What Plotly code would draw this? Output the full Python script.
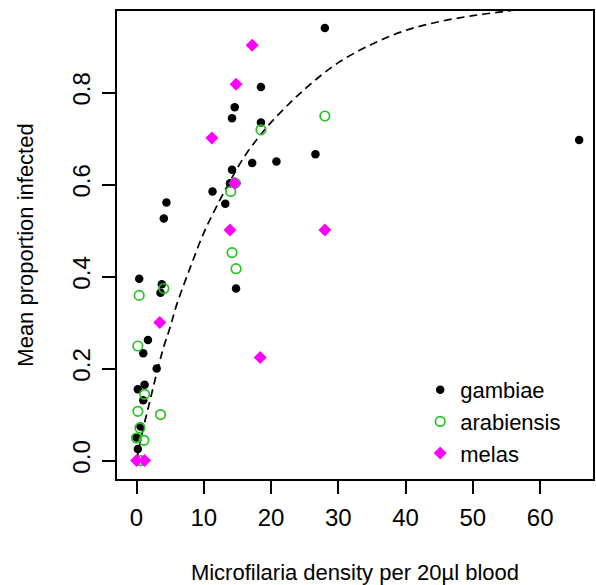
import plotly.graph_objects as go

# gambiae (black filled circles)
gambiae_x = [28.0, 18.5, 14.6, 14.2, 18.5, 26.6, 20.8, 17.2, 14.2, 13.9, 11.3, 13.2, 4.45, 4.06,
             65.8, 0.4, 3.76, 3.57, 14.8, 1.7, 1.0, 3.0, 0.2, 1.2, 1.0, 0.6, 0.0, 0.2]
gambiae_y = [0.940, 0.812, 0.768, 0.744, 0.735, 0.666, 0.650, 0.647, 0.632, 0.603, 0.585, 0.558, 0.561, 0.526,
             0.697, 0.395, 0.383, 0.365, 0.374, 0.262, 0.233, 0.200, 0.155, 0.165, 0.131, 0.074, 0.050, 0.025]

# arabiensis (green open circles)
arab_x = [28.0, 18.5, 14.7, 14.0, 14.2, 14.8, 4.06, 0.4, 0.2, 1.2, 3.57, 0.2, 0.5, 0.0, 1.1, 0.6]
arab_y = [0.749, 0.719, 0.603, 0.585, 0.452, 0.417, 0.374, 0.359, 0.249, 0.144, 0.100, 0.107, 0.071, 0.049, 0.044, 0.0]

# melas (magenta diamonds)
melas_x = [17.2, 14.8, 11.2, 14.6, 13.9, 28.0, 3.46, 18.4, 0.0, 1.2]
melas_y = [0.903, 0.818, 0.701, 0.603, 0.501, 0.501, 0.300, 0.224, 0.0, 0.0]

# fitted curve
curve_x = [0, 1, 2, 3, 4, 5, 6, 8, 10, 12, 14, 16, 18, 20, 23, 26, 30, 35, 40, 45, 50, 55, 58]
curve_y = [0.0, 0.07, 0.13, 0.19, 0.245, 0.29, 0.34, 0.42, 0.495, 0.555, 0.61, 0.66, 0.70, 0.735,
           0.78, 0.82, 0.865, 0.905, 0.935, 0.954, 0.967, 0.977, 0.983]

x_ticks = [0, 10, 20, 30, 40, 50, 60]
y_ticks = [0.0, 0.2, 0.4, 0.6, 0.8]
y_tick_labels = ["0.0", "0.2", "0.4", "0.6", "0.8"]

FONT = "Liberation Sans, Arial, sans-serif"

fig = go.Figure()
fig.add_trace(go.Scatter(x=curve_x, y=curve_y, mode="lines", line_shape="spline",
                         line=dict(color="black", width=1.7, dash="8px,5px"),
                         showlegend=False, hoverinfo="skip"))
fig.add_trace(go.Scatter(x=gambiae_x, y=gambiae_y, mode="markers", name="gambiae",
                         marker=dict(symbol="circle", size=8.5, color="black")))
fig.add_trace(go.Scatter(x=arab_x, y=arab_y, mode="markers", name="arabiensis",
                         marker=dict(symbol="circle-open", size=9.5, color="#22c322",
                                     line=dict(width=1.7, color="#22c322"))))
fig.add_trace(go.Scatter(x=melas_x, y=melas_y, mode="markers", name="melas",
                         marker=dict(symbol="diamond", size=10, color="#ff00ff")))

fig.update_layout(
    width=596, height=585,
    margin=dict(l=117, r=1, t=11, b=105),
    paper_bgcolor="white", plot_bgcolor="white",
    font=dict(family=FONT, color="black"),
    showlegend=True,
    legend=dict(x=0.637, y=0.235, xanchor="left", yanchor="top",
                bgcolor="rgba(0,0,0,0)", font=dict(size=22, family=FONT),
                tracegroupgap=0, itemwidth=30),
)
fig.update_xaxes(
    range=[-2.9, 67.86], tickvals=x_ticks, ticktext=[str(v) for v in x_ticks],
    showgrid=False, zeroline=False, showline=True, mirror=True,
    linecolor="black", linewidth=1.8, ticks="outside", ticklen=13, tickwidth=1.5,
    tickcolor="black", tickfont=dict(size=24, family=FONT), ticklabelstandoff=3,
    title=dict(text="Microfilaria density per 20µl blood", font=dict(size=22, family=FONT), standoff=38),
)
fig.update_yaxes(
    range=[-0.0401, 0.9772], tickvals=y_ticks, ticktext=y_tick_labels,
    showgrid=False, zeroline=False, showline=True, mirror=True,
    linecolor="black", linewidth=1.8, ticks="outside", ticklen=13, tickwidth=1.5,
    tickcolor="black", tickfont=dict(size=24, family=FONT), tickangle=-90, ticklabelstandoff=3,
    title=dict(text="Mean proportion infected", font=dict(size=22, family=FONT), standoff=28),
)

fig.write_html("out.html")
